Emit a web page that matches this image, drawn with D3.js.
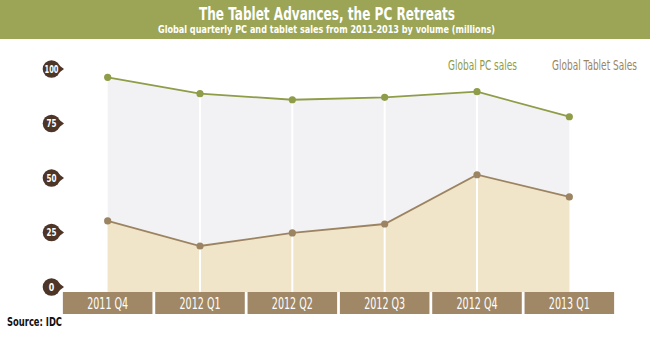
<!DOCTYPE html>
<html>
<head>
<meta charset="utf-8">
<script src="https://cdn.jsdelivr.net/npm/d3@7"></script>
<style>
  html, body { margin: 0; padding: 0; background: #ffffff; }
  svg { display: block; }
  text { font-stretch: condensed; }
</style>
</head>
<body>
<svg id="chart" width="650" height="340"></svg>
<script>
const categories = ["2011 Q4", "2012 Q1", "2012 Q2", "2012 Q3", "2012 Q4", "2013 Q1"];
const pcSales = [96.2, 88.7, 85.9, 87.0, 89.6, 78.1];
const tabletSales = [30.3, 18.8, 24.8, 28.9, 51.5, 41.3];
const yTicks = [0, 25, 50, 75, 100];
const titleText = "The Tablet Advances, the PC Retreats";
const subtitleText = "Global quarterly PC and tablet sales from 2011-2013 by volume (millions)";
const legendLabels = ["Global PC sales", "Global Tablet Sales"];
const sourceText = "Source: IDC";

const W = 650, H = 340;
const condensed = "'DejaVu Sans Condensed', 'DejaVu Sans', 'Liberation Sans Narrow', sans-serif";
const colors = {
  header: "#9ba555",
  pc: "#8f9c48",
  tablet: "#9c8462",
  pcArea: "#f2f2f4",
  tabletArea: "#f0e5c9",
  box: "#a08866",
  tick: "#4d3527"
};

const svg = d3.select("#chart");

const x = d3.scaleBand().domain(categories).range([61.5, 615.5]).paddingInner(0.03).paddingOuter(0.015);
const y = d3.scaleLinear().domain([0, 100]).range([287, 69]);
const cx = d => x(d) + x.bandwidth() / 2;
const boxTop = 292, boxBottom = 314;

// Header band
svg.append("rect").attr("x", 0).attr("y", 0).attr("width", W).attr("height", 39).attr("fill", colors.header);
svg.append("text").attr("x", 327).attr("y", 19.5).attr("text-anchor", "middle")
  .attr("fill", "#fff").attr("font-family", condensed).attr("font-weight", "bold").attr("font-size", 17.5)
  .attr("textLength", 256).attr("lengthAdjust", "spacingAndGlyphs")
  .text(titleText);
svg.append("text").attr("x", 326.5).attr("y", 32.5).attr("text-anchor", "middle")
  .attr("fill", "#fff").attr("font-family", condensed).attr("font-weight", "bold").attr("font-size", 11)
  .attr("textLength", 337).attr("lengthAdjust", "spacingAndGlyphs")
  .text(subtitleText);

const data = categories.map((c, i) => ({ c, pc: pcSales[i], tab: tabletSales[i] }));

// Areas
const pcArea = d3.area().x(d => cx(d.c)).y0(boxTop).y1(d => y(d.pc));
const tabArea = d3.area().x(d => cx(d.c)).y0(boxTop).y1(d => y(d.tab));
svg.append("path").datum(data).attr("d", pcArea).attr("fill", colors.pcArea);
svg.append("path").datum(data).attr("d", tabArea).attr("fill", colors.tabletArea);

// White vertical gridlines at interior categories
svg.append("g").selectAll("line").data(data.slice(1, -1)).join("line")
  .attr("x1", d => cx(d.c)).attr("x2", d => cx(d.c))
  .attr("y1", d => y(d.pc)).attr("y2", boxTop)
  .attr("stroke", "#ffffff").attr("stroke-width", 2);

// Lines
const pcLine = d3.line().x(d => cx(d.c)).y(d => y(d.pc));
const tabLine = d3.line().x(d => cx(d.c)).y(d => y(d.tab));
svg.append("path").datum(data).attr("d", pcLine).attr("fill", "none").attr("stroke", colors.pc).attr("stroke-width", 1.8);
svg.append("path").datum(data).attr("d", tabLine).attr("fill", "none").attr("stroke", colors.tablet).attr("stroke-width", 1.8);

svg.append("g").selectAll("circle").data(data).join("circle")
  .attr("cx", d => cx(d.c)).attr("cy", d => y(d.pc)).attr("r", 3.6).attr("fill", colors.pc);
svg.append("g").selectAll("circle").data(data).join("circle")
  .attr("cx", d => cx(d.c)).attr("cy", d => y(d.tab)).attr("r", 3.6).attr("fill", colors.tablet);

// Category boxes
const xg = svg.append("g");
xg.selectAll("rect").data(categories).join("rect")
  .attr("x", d => x(d)).attr("y", boxTop).attr("width", x.bandwidth()).attr("height", boxBottom - boxTop)
  .attr("fill", colors.box);
xg.selectAll("text").data(categories).join("text")
  .attr("x", d => cx(d)).attr("y", boxTop + 17).attr("text-anchor", "middle")
  .attr("fill", "#fff").attr("font-family", condensed).attr("font-size", 15).attr("font-weight", 500)
  .attr("textLength", 41).attr("lengthAdjust", "spacingAndGlyphs")
  .text(d => d);

// Y tick markers
const tg = svg.append("g");
const tick = tg.selectAll("g").data(yTicks).join("g")
  .attr("transform", d => `translate(51.5,${y(d)})`);
tick.append("path").attr("d", "M4,-6.5 L12.5,0 L4,6.5 Z").attr("fill", colors.tick);
tick.append("circle").attr("r", 8.8).attr("fill", colors.tick);
tick.append("text").attr("text-anchor", "middle").attr("y", 3.6)
  .attr("fill", "#fff").attr("font-family", condensed).attr("font-weight", "bold")
  .attr("font-size", 10.5)
  .attr("textLength", d => d >= 100 ? 14 : (d >= 10 ? 10 : 5.5)).attr("lengthAdjust", "spacingAndGlyphs")
  .text(d => d);

// Legend labels (right-anchored)
svg.append("text").attr("x", 517).attr("y", 70).attr("text-anchor", "end").attr("fill", colors.pc)
  .attr("font-family", condensed).attr("font-size", 14)
  .attr("textLength", 69).attr("lengthAdjust", "spacingAndGlyphs").text(legendLabels[0]);
svg.append("text").attr("x", 637).attr("y", 70).attr("text-anchor", "end").attr("fill", colors.tablet)
  .attr("font-family", condensed).attr("font-size", 14)
  .attr("textLength", 85).attr("lengthAdjust", "spacingAndGlyphs").text(legendLabels[1]);

// Source
svg.append("text").attr("x", 7).attr("y", 326).attr("fill", "#111")
  .attr("font-family", condensed).attr("font-weight", "bold").attr("font-size", 11.5)
  .attr("textLength", 55).attr("lengthAdjust", "spacingAndGlyphs")
  .text(sourceText);
</script>
</body>
</html>
